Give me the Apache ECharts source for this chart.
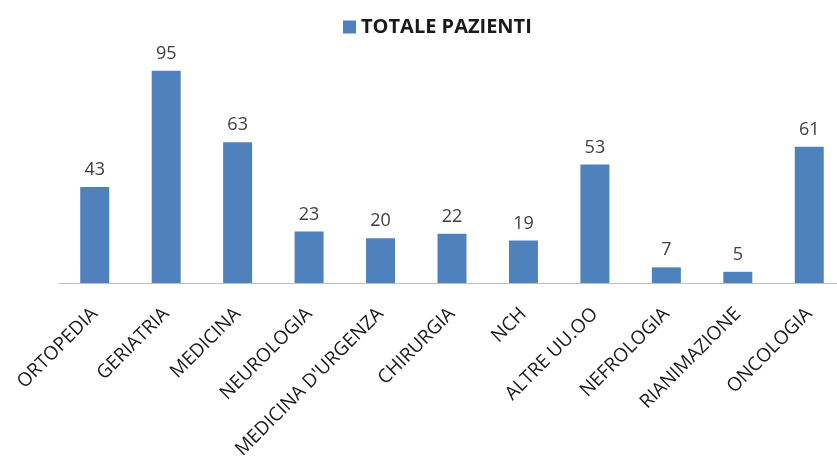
<!DOCTYPE html>
<html>
<head>
<meta charset="utf-8">
<script src="https://cdn.jsdelivr.net/npm/echarts@6/dist/echarts.min.js"></script>
<style>html,body{margin:0;padding:0;background:#fff}#c{width:837px;height:469px}</style>
</head>
<body>
<div id="c"></div>
<script>
const categories = ["ORTOPEDIA","GERIATRIA","MEDICINA","NEUROLOGIA","MEDICINA D'URGENZA","CHIRURGIA","NCH","ALTRE UU.OO","NEFROLOGIA","RIANIMAZIONE","ONCOLOGIA"];
const values = [43,95,63,23,20,22,19,53,7,5,61];
const seriesName = "TOTALE PAZIENTI";

const chart = echarts.init(document.getElementById('c'));
chart.setOption({
  animation: false,
  legend: {
    top: 12, left: 338,
    itemWidth: 13, itemHeight: 13, itemGap: 6,
    icon: 'rect',
    textStyle: {fontFamily: 'Open Sans', fontWeight: 'bold', fontSize: 20, color: '#1a1a1a'},
    data: [seriesName]
  },
  grid: {left: 59, width: 786, top: 59.5, bottom: 186, containLabel: false, outerBoundsMode: 'none'},
  xAxis: {
    type: 'category', data: categories,
    axisLine: {lineStyle: {color: '#bfbfbf', width: 1}},
    axisTick: {show: false},
    axisLabel: {rotate: 45, margin: 28, fontFamily: 'Open Sans', fontSize: 19, color: '#1a1a1a', interval: 0}
  },
  yAxis: {type: 'value', min: 0, max: 100, show: false, splitLine: {show: false}},
  series: [{
    name: seriesName, type: 'bar', data: values, barWidth: 29,
    itemStyle: {color: '#4f81bd'},
    label: {show: true, position: 'top', distance: 8, fontFamily: 'Open Sans', fontSize: 18, color: '#404040'}
  }]
});
</script>
</body>
</html>
